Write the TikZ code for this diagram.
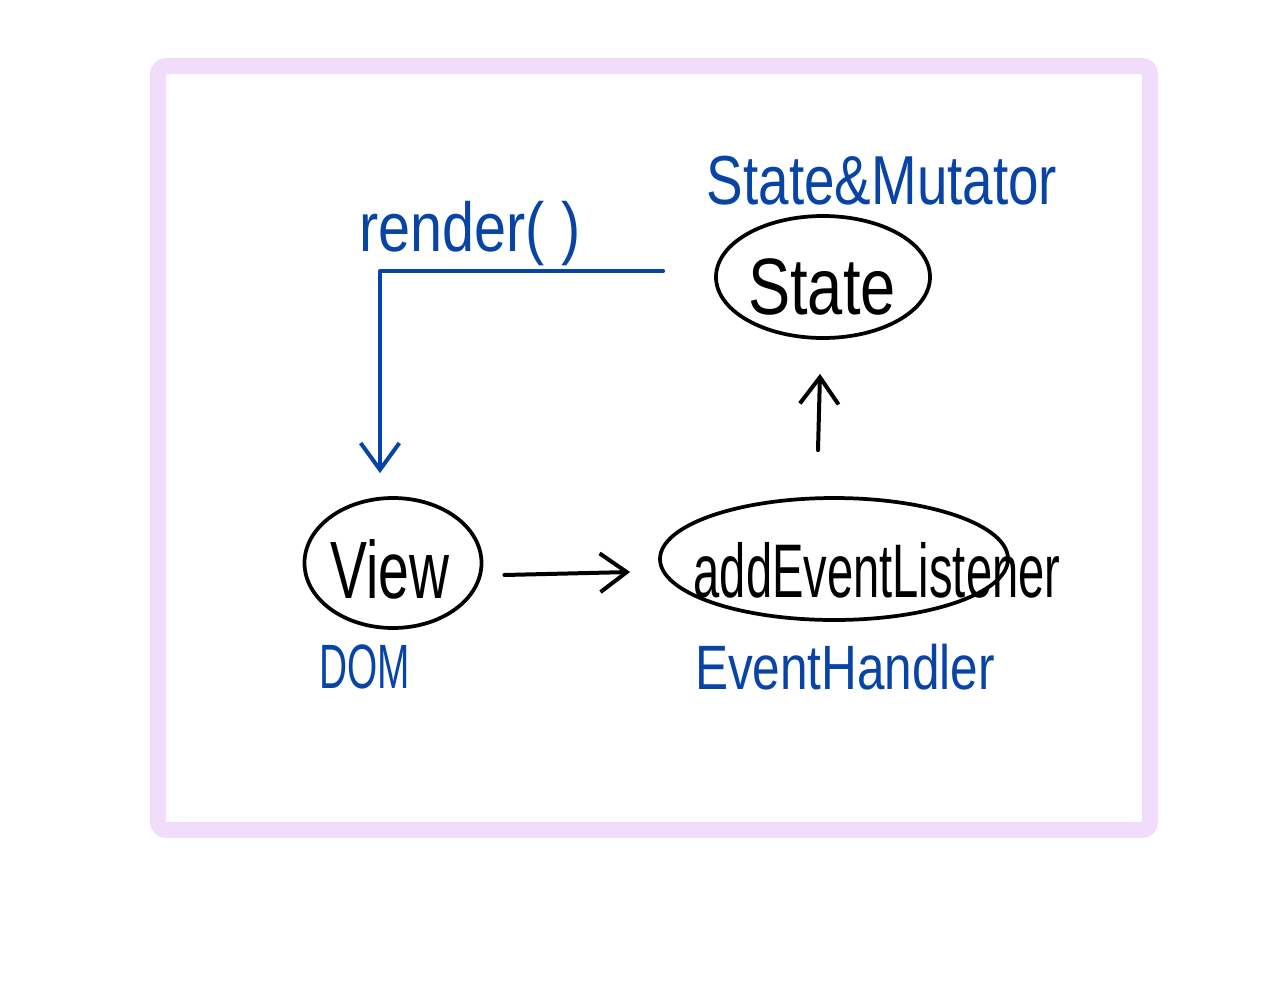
\documentclass[tikz,border=0pt]{standalone}
\usepackage{fontspec}
\setmainfont{Liberation Sans}
\usetikzlibrary{arrows.meta,shapes.geometric,calc}
\definecolor{penblue}{RGB}{8,68,165}
\definecolor{framelilac}{RGB}{240,221,252}
\tikzset{every picture/.style={line width=0.75pt}}

\begin{document}
\begin{tikzpicture}[x=0.75pt,y=0.75pt,yscale=-1,xscale=1,
  pen/.style={line width=3pt,line cap=round,line join=round},
  penarrow/.style={pen,-{Straight Barb[length=20pt,width=29pt,line width=3pt]}},
  loopshape/.style={draw,ellipse,line width=2.8pt,inner sep=0pt},
  handtext/.style={inner sep=0pt}]
\useasboundingbox (0,0) rectangle (1279,1000);

%Shape: Rectangle [frame]
\draw [draw=framelilac, line width=12pt, rounded corners=6pt] (158,66) rectangle (1150,830);

%Shape: Ellipse [state]
\node (state) [loopshape, minimum width=160.5pt, minimum height=91.5pt] at (823,277) {};
%Shape: Ellipse [view]
\node (view) [loopshape, minimum width=132.75pt, minimum height=97.5pt] at (393,563) {};
%Shape: Ellipse [addEventListener]
\node (add) [loopshape, minimum width=261pt, minimum height=91.5pt] at (834,559) {};

% Text Node
\node (statetxt) [handtext, font=\fontsize{60pt}{60pt}\selectfont, xscale=0.79] at (822,287) {State};
% Text Node
\node (viewtxt) [handtext, font=\fontsize{61pt}{61pt}\selectfont, xscale=0.68] at (390,569) {View};
% Text Node
\node (addtxt) [handtext, font=\fontsize{57pt}{57pt}\selectfont, xscale=0.62] at (877,570) {addEventListener};

% Text Node
\node (mutlbl) [handtext, penblue, font=\fontsize{52pt}{52pt}\selectfont, xscale=0.79] at (882,181) {State\&Mutator};
% Text Node
\node (renderlbl) [handtext, penblue, font=\fontsize{52pt}{52pt}\selectfont, xscale=0.83] at (470,234) {render( )};
% Text Node
\node (domlbl) [handtext, penblue, font=\fontsize{47pt}{47pt}\selectfont, xscale=0.62] at (365,667) {DOM};
% Text Node
\node (handlerlbl) [handtext, penblue, font=\fontsize{47pt}{47pt}\selectfont, xscale=0.79] at (845,667) {EventHandler};

%Straight Lines [render]
\draw [penarrow, penblue] ($(state.west)+(-51,-6)$) -| ($(view.north)+(-13,-23)$);
%Straight Lines [listen]
\draw [penarrow] ($(view.east)+(21,12)$) -- ($(add.west)+(-28,13)$);
%Straight Lines [mutate]
\draw [penarrow] ($(add.north)+(-16,-46)$) -- ($(state.south)+(-3,34)$);

\end{tikzpicture}
\end{document}
